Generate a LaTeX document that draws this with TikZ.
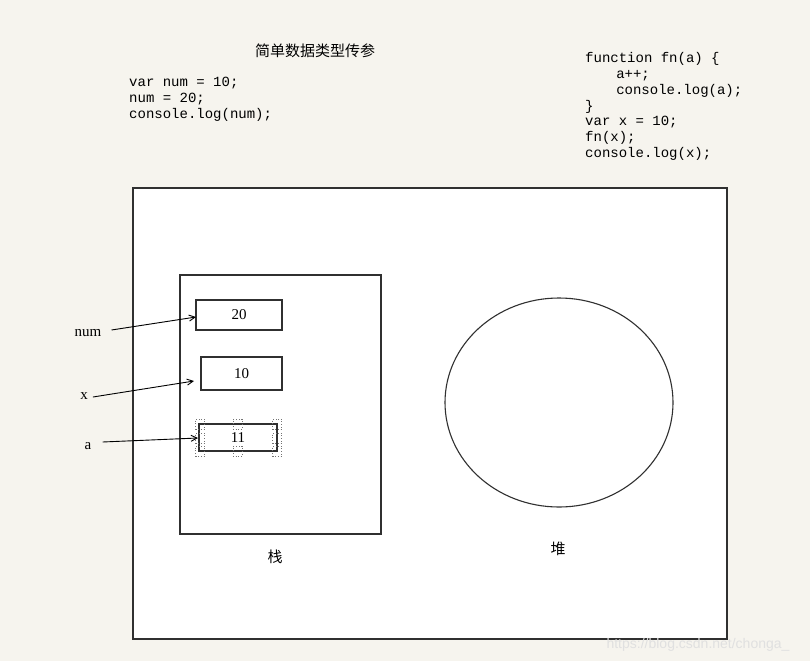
\documentclass[tikz,border=0pt]{standalone}
\usepackage{fontspec}
\setmainfont{Liberation Sans}
\setmonofont{Liberation Mono}
\newfontfamily\serifnum{Liberation Serif}
\newfontfamily\cjk{Noto Sans CJK SC}
\usetikzlibrary{arrows.meta}
\definecolor{bgc}{HTML}{F6F4EE}
\definecolor{linec}{HTML}{303030}
\tikzset{
  valbox/.style={draw=linec, line width=1.1pt, inner sep=0pt, text=black, font=\serifnum\fontsize{15}{17}\selectfont},
  varlabel/.style={inner sep=0pt, font=\serifnum\fontsize{15}{17}\selectfont},
  ptr/.style={draw=black, line width=0.9pt, -{Straight Barb[length=6pt,width=6pt]}},
  code/.style={inner sep=0pt, anchor=north west, align=left, font=\ttfamily\fontsize{14}{15.9}\selectfont},
  handle/.style={draw=black!55, dotted, line width=0.7pt, minimum width=9pt, minimum height=10pt, inner sep=0pt},
  cjklabel/.style={inner sep=0pt, font=\cjk\fontsize{15}{18}\selectfont}
}
\begin{document}
\begin{tikzpicture}[x=1pt,y=-1pt]
\fill[bgc] (0,0) rectangle (810,661);
\useasboundingbox (0,0) rectangle (810,661);
% title and code
\node[cjklabel] (title) at (315,51) {简单数据类型传参};
\node[code] (code1) at (129,77) {var num = 10;\\num = 20;\\console.log(num);};
\node[code] (code2) at (585,52) {function fn(a) \{\\\hspace*{4.2ex}a++;\\\hspace*{4.2ex}console.log(a);\\\}\\var x = 10;\\fn(x);\\console.log(x);};
% outer frame
\draw[draw=linec, line width=1.1pt, fill=white] (133,188) rectangle (727,639);
% stack
\draw[draw=linec, line width=1.1pt] (180,275) rectangle (381,534);
\node[valbox, minimum width=86pt, minimum height=30pt] (b20) at (239,315) {20};
\node[valbox, minimum width=81pt, minimum height=33pt] (b10) at (241.5,373.5) {10};
\node[valbox, minimum width=78pt, minimum height=27pt] (b11) at (238,437.5) {11};
% selection handles
\foreach \hx/\hy [count=\i] in {200/424, 200/438, 200/451, 237.5/424, 237.5/451, 277/424, 277/438, 277/451}
  \node[handle] (h\i) at (\hx,\hy) {};
% heap
\draw[draw=linec, line width=1.1pt] (559,402.5) ellipse [x radius=114, y radius=104.5];
% labels
\node[cjklabel] (stack) at (275,557) {栈};
\node[cjklabel] (heap) at (558,549) {堆};
% variables
\node[varlabel] (num) at (88,333) {num};
\node[varlabel] (x) at (84,396) {x};
\node[varlabel] (a) at (88,446) {a};
\coordinate (tnum) at (196,317);
\coordinate (tx) at (194,381);
\coordinate (ta) at (198,438);
\draw[ptr] (num.east) ++(10,-3) -- (tnum);
\draw[ptr] (x.east) ++(5,1) -- (tx);
\draw[ptr] (a.east) ++(11,-4) -- (ta);
% watermark
\node[inner sep=0pt, text=black!12, font=\fontsize{14}{16}\selectfont] (wm) at (698,645) {https://blog.csdn.net/chonga\_};
\end{tikzpicture}
\end{document}
